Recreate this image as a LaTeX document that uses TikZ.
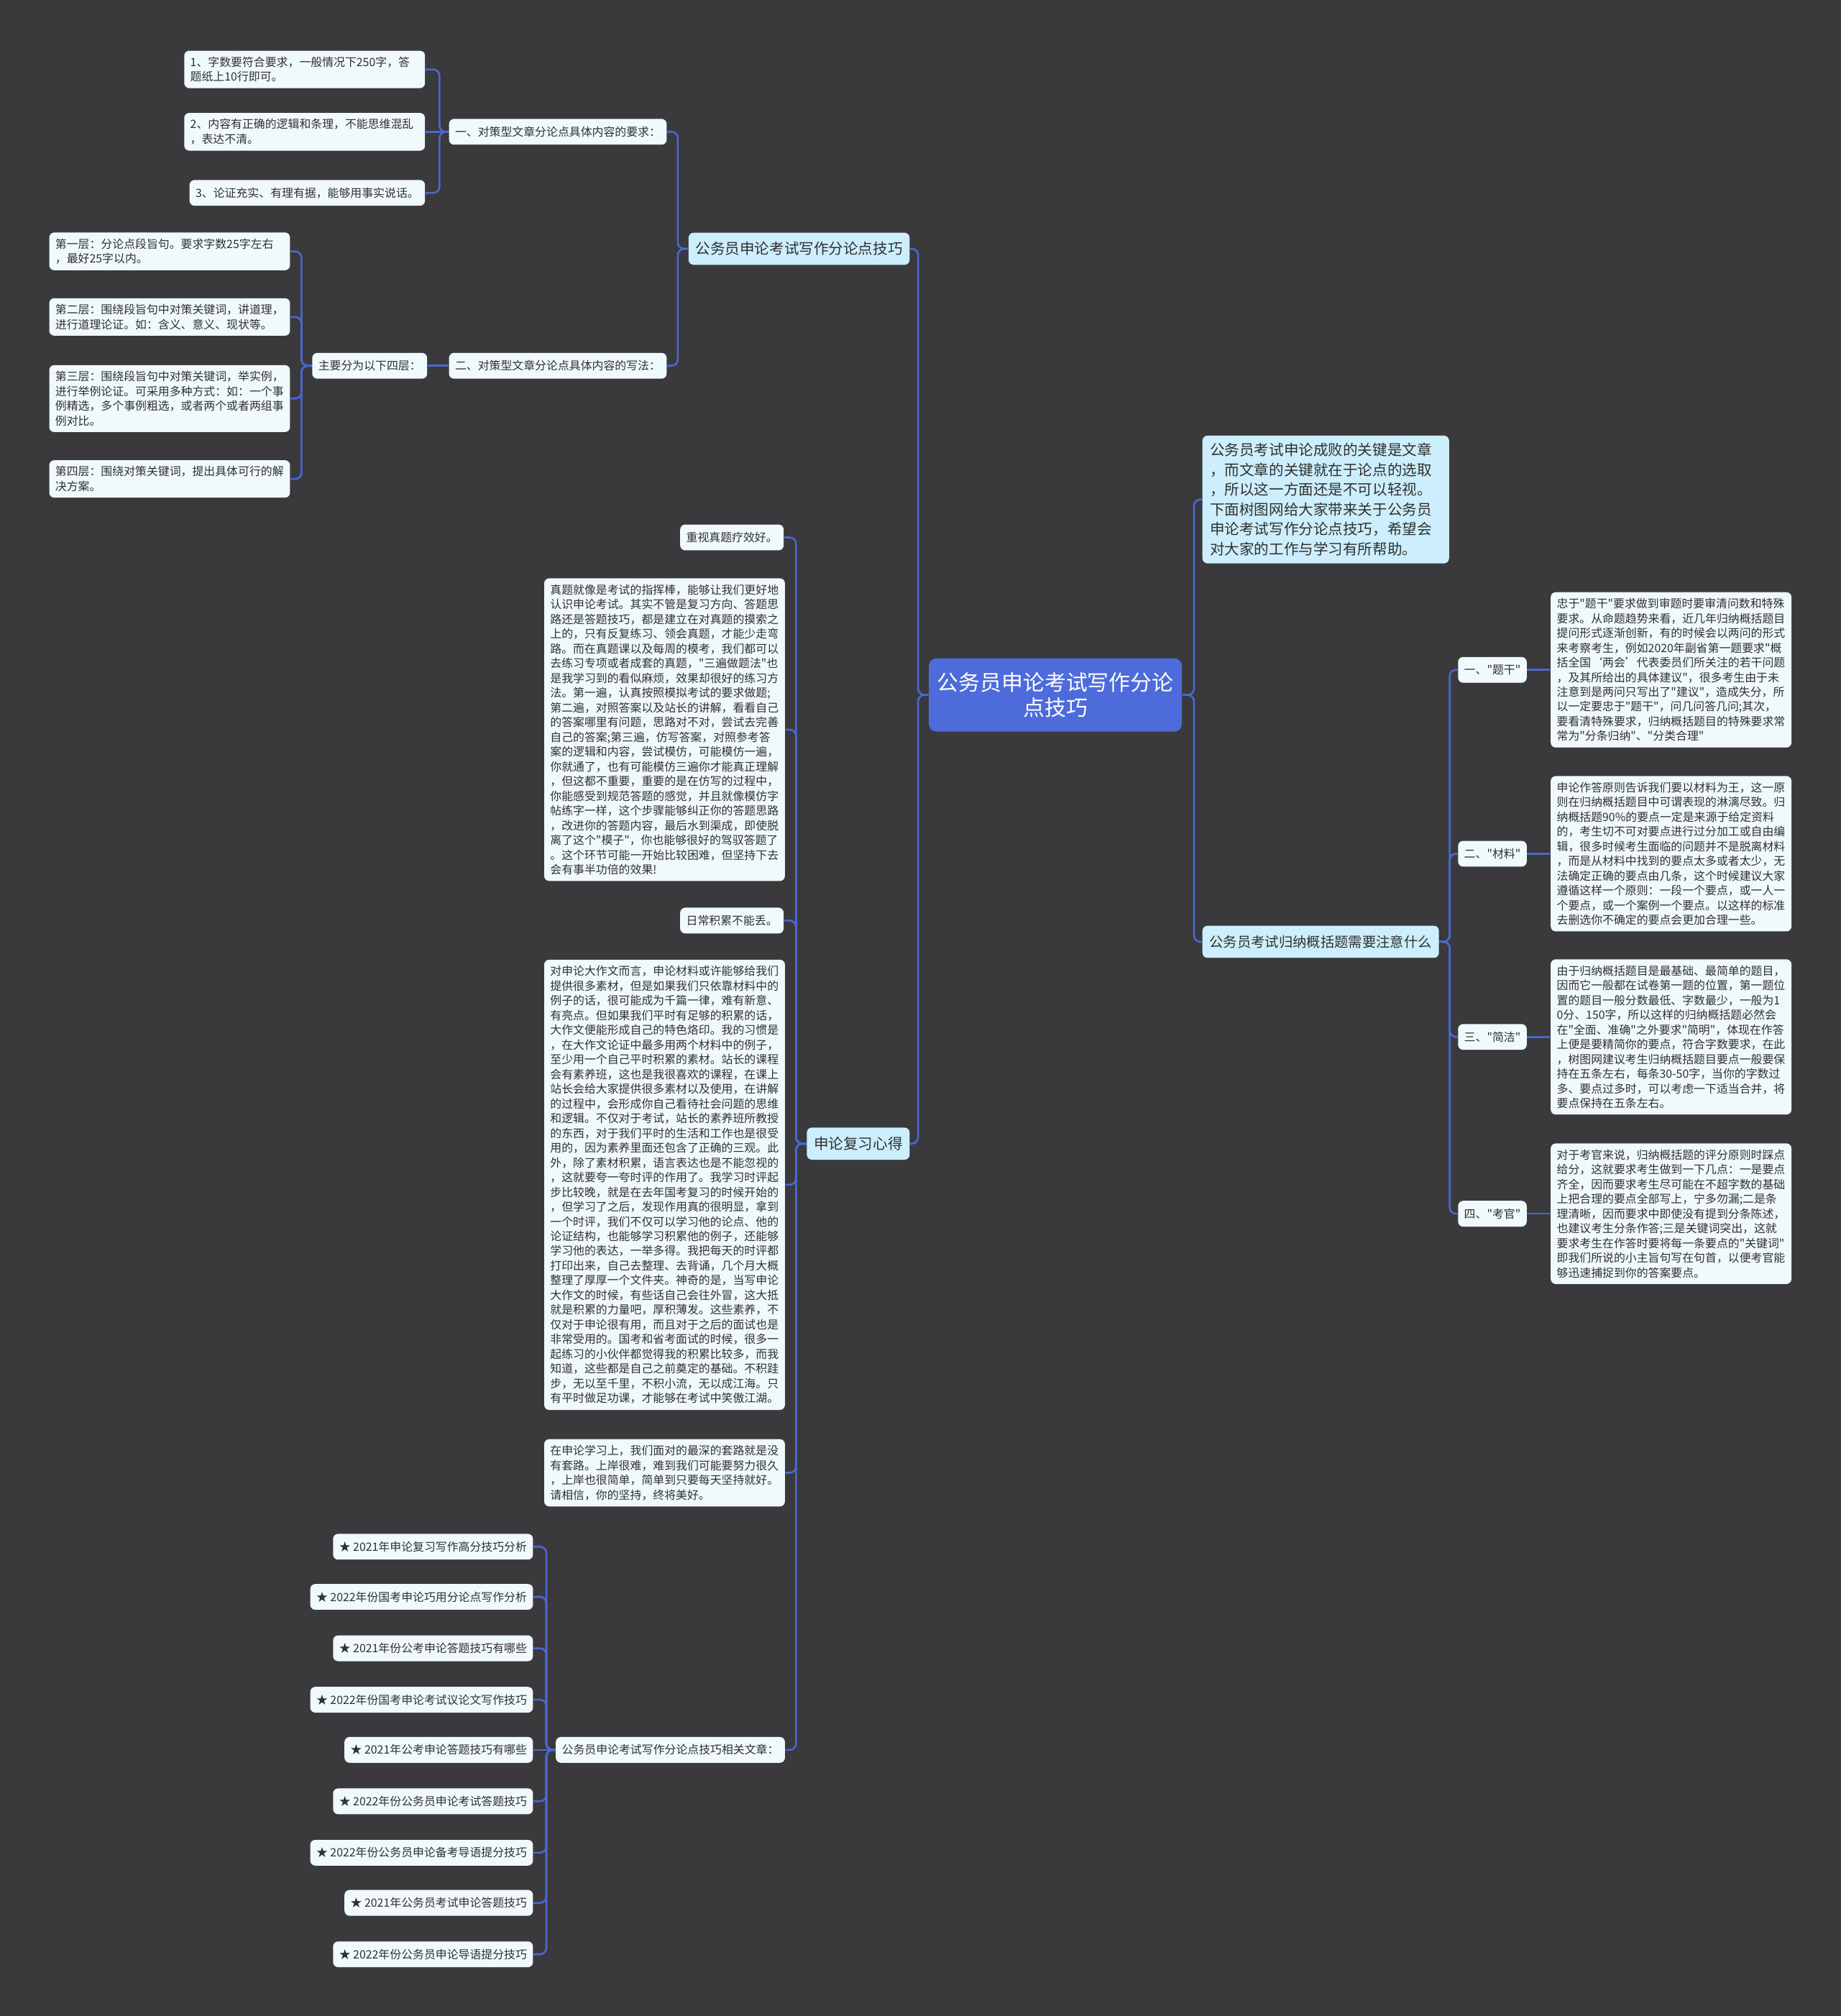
\documentclass[tikz,border=0pt]{standalone}
\usepackage{fontspec}
\setmainfont{Noto Sans CJK SC}[Ligatures=TeXOff]
\usetikzlibrary{positioning}

\definecolor{mmBg}{HTML}{3A393C}
\definecolor{mmRoot}{HTML}{4D6BDB}
\definecolor{mmLevel}{HTML}{CDEEFC}
\definecolor{mmLeaf}{HTML}{F0F9FC}
\definecolor{mmLink}{HTML}{4A68D2}
\definecolor{mmText}{HTML}{303030}

\newcommand{\leaffont}{\fontsize{4.52pt}{5.83pt}\selectfont}
\newcommand{\levelfont}{\fontsize{5.85pt}{7.82pt}\selectfont}
\newcommand{\rootfont}{\fontsize{8.5pt}{10.2pt}\selectfont}

\begin{document}
\begin{tikzpicture}[
  x=0.017877cm, y=-0.017877cm,
  leaf/.style={rounded corners=2pt, fill=mmLeaf, text=mmText, font=\leaffont,
               inner sep=2.4pt, minimum height=10.2pt, align=left},
  leafbox/.style={leaf, text width=90.5pt},
  level/.style={rounded corners=2pt, fill=mmLevel, text=mmText, font=\levelfont,
                inner sep=2.8pt, minimum height=12.7pt},
  rootbox/.style={rounded corners=3pt, fill=mmRoot, text=white, font=\rootfont,
                  align=center, minimum width=98.7pt, minimum height=29pt},
  link/.style={draw=mmLink, line width=0.75pt, rounded corners=2.5pt}
]
  \useasboundingbox (0,0) rectangle (1432,1568);
  \fill[mmBg] (0,0) rectangle (1432,1568);

  % ---- centre ----
  \node[rootbox] (root) at (821,540.5) {公务员申论考试写作分论\\点技巧};

  % ---- right side ----
  \node[level, anchor=west, text width=91.6pt, align=left, inner sep=3pt] (intro) at (935,388.5)
        {公务员考试申论成败的关键是文章\\，而文章的关键就在于论点的选取\\，所以这一方面还是不可以轻视。\\下面树图网给大家带来关于公务员\\申论考试写作分论点技巧，希望会\\对大家的工作与学习有所帮助。};
  \node[level, anchor=west, font=\fontsize{5.5pt}{7pt}\selectfont] (sumq) at (935,732.5)
        {公务员考试归纳概括题需要注意什么};

  \node[leaf, anchor=east] (k1) at (1188,521) {一、"题干"};
  \node[leaf, anchor=east] (k2) at (1188,664) {二、"材料"};
  \node[leaf, anchor=east] (k3) at (1188,806.5) {三、"简洁"};
  \node[leaf, anchor=east] (k4) at (1188,944) {四、"考官"};

  \node[leafbox, right=0.32cm of k1] (kt1)
        {忠于"题干"要求做到审题时要审清问数和特殊\\要求。从命题趋势来看，近几年归纳概括题目\\提问形式逐渐创新，有的时候会以两问的形式\\来考察考生，例如2020年副省第一题要求"概\\括全国‘两会’代表委员们所关注的若干问题\\，及其所给出的具体建议"，很多考生由于未\\注意到是两问只写出了"建议"，造成失分，所\\以一定要忠于"题干"，问几问答几问;其次，\\要看清特殊要求，归纳概括题目的特殊要求常\\常为"分条归纳"、"分类合理"};
  \node[leafbox, right=0.32cm of k2] (kt2)
        {申论作答原则告诉我们要以材料为王，这一原\\则在归纳概括题目中可谓表现的淋漓尽致。归\\纳概括题90\%的要点一定是来源于给定资料\\的，考生切不可对要点进行过分加工或自由编\\辑，很多时候考生面临的问题并不是脱离材料\\，而是从材料中找到的要点太多或者太少，无\\法确定正确的要点由几条，这个时候建议大家\\遵循这样一个原则：一段一个要点，或一人一\\个要点，或一个案例一个要点。以这样的标准\\去删选你不确定的要点会更加合理一些。};
  \node[leafbox, right=0.32cm of k3] (kt3)
        {由于归纳概括题目是最基础、最简单的题目，\\因而它一般都在试卷第一题的位置，第一题位\\置的题目一般分数最低、字数最少，一般为1\\0分、150字，所以这样的归纳概括题必然会\\在"全面、准确"之外要求"简明"，体现在作答\\上便是要精简你的要点，符合字数要求，在此\\，树图网建议考生归纳概括题目要点一般要保\\持在五条左右，每条30-50字，当你的字数过\\多、要点过多时，可以考虑一下适当合并，将\\要点保持在五条左右。};
  \node[leafbox, right=0.32cm of k4] (kt4)
        {对于考官来说，归纳概括题的评分原则时踩点\\给分，这就要求考生做到一下几点：一是要点\\齐全，因而要求考生尽可能在不超字数的基础\\上把合理的要点全部写上，宁多勿漏;二是条\\理清晰，因而要求中即使没有提到分条陈述，\\也建议考生分条作答;三是关键词突出，这就\\要求考生在作答时要将每一条要点的"关键词"\\即我们所说的小主旨句写在句首，以便考官能\\够迅速捕捉到你的答案要点。};

  % ---- left side, upper branch ----
  \node[level, anchor=east] (tip) at (708,193.5) {公务员申论考试写作分论点技巧};
  \node[leaf, anchor=east] (req) at (519,102.5) {一、对策型文章分论点具体内容的要求：};
  \node[leaf, anchor=east] (way) at (519,284.5) {二、对策型文章分论点具体内容的写法：};
  \node[leaf, left=0.29cm of way] (layers) {主要分为以下四层：};

  \node[leafbox, anchor=east] (req1) at (331,54)
        {1、字数要符合要求，一般情况下250字，答\\题纸上10行即可。};
  \node[leafbox, anchor=east] (req2) at (331,102.5)
        {2、内容有正确的逻辑和条理，不能思维混乱\\，表达不清。};
  \node[leaf, anchor=east] (req3) at (331,150) {3、论证充实、有理有据，能够用事实说话。};

  \node[leafbox, anchor=east] (lay1) at (226,195.5)
        {第一层：分论点段旨句。要求字数25字左右\\，最好25字以内。};
  \node[leafbox, anchor=east] (lay2) at (226,246.5)
        {第二层：围绕段旨句中对策关键词，讲道理，\\进行道理论证。如：含义、意义、现状等。};
  \node[leafbox, anchor=east] (lay3) at (226,310)
        {第三层：围绕段旨句中对策关键词，举实例，\\进行举例论证。可采用多种方式：如：一个事\\例精选，多个事例粗选，或者两个或者两组事\\例对比。};
  \node[leafbox, anchor=east] (lay4) at (226,372.5)
        {第四层：围绕对策关键词，提出具体可行的解\\决方案。};

  % ---- left side, lower branch ----
  \node[level, anchor=east] (note) at (708,889.5) {申论复习心得};
  \node[leaf, anchor=east] (real) at (610,418) {重视真题疗效好。};
  \node[leafbox, anchor=east] (realtxt) at (611,567.5)
        {真题就像是考试的指挥棒，能够让我们更好地\\认识申论考试。其实不管是复习方向、答题思\\路还是答题技巧，都是建立在对真题的摸索之\\上的，只有反复练习、领会真题，才能少走弯\\路。而在真题课以及每周的模考，我们都可以\\去练习专项或者成套的真题，"三遍做题法"也\\是我学习到的看似麻烦，效果却很好的练习方\\法。第一遍，认真按照模拟考试的要求做题;\\第二遍，对照答案以及站长的讲解，看看自己\\的答案哪里有问题，思路对不对，尝试去完善\\自己的答案;第三遍，仿写答案，对照参考答\\案的逻辑和内容，尝试模仿，可能模仿一遍，\\你就通了，也有可能模仿三遍你才能真正理解\\，但这都不重要，重要的是在仿写的过程中，\\你能感受到规范答题的感觉，并且就像模仿字\\帖练字一样，这个步骤能够纠正你的答题思路\\，改进你的答题内容，最后水到渠成，即使脱\\离了这个"模子"，你也能够很好的驾驭答题了\\。这个环节可能一开始比较困难，但坚持下去\\会有事半功倍的效果!};
  \node[leaf, anchor=east] (daily) at (610,716) {日常积累不能丢。};
  \node[leafbox, anchor=east] (dailytxt) at (611,921.5)
        {对申论大作文而言，申论材料或许能够给我们\\提供很多素材，但是如果我们只依靠材料中的\\例子的话，很可能成为千篇一律，难有新意、\\有亮点。但如果我们平时有足够的积累的话，\\大作文便能形成自己的特色烙印。我的习惯是\\，在大作文论证中最多用两个材料中的例子，\\至少用一个自己平时积累的素材。站长的课程\\会有素养班，这也是我很喜欢的课程，在课上\\站长会给大家提供很多素材以及使用，在讲解\\的过程中，会形成你自己看待社会问题的思维\\和逻辑。不仅对于考试，站长的素养班所教授\\的东西，对于我们平时的生活和工作也是很受\\用的，因为素养里面还包含了正确的三观。此\\外，除了素材积累，语言表达也是不能忽视的\\，这就要夸一夸时评的作用了。我学习时评起\\步比较晚，就是在去年国考复习的时候开始的\\，但学习了之后，发现作用真的很明显，拿到\\一个时评，我们不仅可以学习他的论点、他的\\论证结构，也能够学习积累他的例子，还能够\\学习他的表达，一举多得。我把每天的时评都\\打印出来，自己去整理、去背诵，几个月大概\\整理了厚厚一个文件夹。神奇的是，当写申论\\大作文的时候，有些话自己会往外冒，这大抵\\就是积累的力量吧，厚积薄发。这些素养，不\\仅对于申论很有用，而且对于之后的面试也是\\非常受用的。国考和省考面试的时候，很多一\\起练习的小伙伴都觉得我的积累比较多，而我\\知道，这些都是自己之前奠定的基础。不积跬\\步，无以至千里，不积小流，无以成江海。只\\有平时做足功课，才能够在考试中笑傲江湖。};
  \node[leafbox, anchor=east] (endtxt) at (611,1145.5)
        {在申论学习上，我们面对的最深的套路就是没\\有套路。上岸很难，难到我们可能要努力很久\\，上岸也很简单，简单到只要每天坚持就好。\\请相信，你的坚持，终将美好。};
  \node[leaf, anchor=east] (links) at (611,1361) {公务员申论考试写作分论点技巧相关文章：};

  \foreach \i/\y/\t in {1/1203/2021年申论复习写作高分技巧分析,
                        2/1242/2022年份国考申论巧用分论点写作分析,
                        3/1282/2021年份公考申论答题技巧有哪些,
                        4/1322/2022年份国考申论考试议论文写作技巧,
                        5/1361/2021年公考申论答题技巧有哪些,
                        6/1401/2022年份公务员申论考试答题技巧,
                        7/1441/2022年份公务员申论备考导语提分技巧,
                        8/1480/2021年公务员考试申论答题技巧,
                        9/1520/2022年份公务员申论导语提分技巧}
    \node[leaf, anchor=east] (art\i) at (415,\y) {★ \t};

  % ---- connectors ----
  \foreach \c in {tip,note} \draw[link] (root.west) -- ++(-8,0) |- (\c.east);
  \foreach \c in {intro,sumq} \draw[link] (root.east) -- ++(9,0) |- (\c.west);
  \foreach \i in {1,...,4} {
    \draw[link] (sumq.east) -- ++(8,0) |- (k\i.west);
    \draw[link] (k\i.east) -- (kt\i.west);
  }
  \foreach \c in {req,way} \draw[link] (tip.west) -- ++(-8,0) |- (\c.east);
  \foreach \c in {req1,req3} \draw[link] (req.west) -- ++(-7,0) |- (\c.east);
  \draw[link] (req.west) -- (req2.east);
  \draw[link] (way.west) -- (layers.east);
  \foreach \i in {1,...,4} \draw[link] (layers.west) -- ++(-8,0) |- (lay\i.east);
  \foreach \c in {real,realtxt,daily,dailytxt,endtxt,links}
    \draw[link] (note.west) -- ++(-8,0) |- (\c.east);
  \foreach \i in {1,2,3,4,6,7,8,9} \draw[link] (links.west) -- ++(-7,0) |- (art\i.east);
  \draw[link] (links.west) -- (art5.east);
\end{tikzpicture}
\end{document}
